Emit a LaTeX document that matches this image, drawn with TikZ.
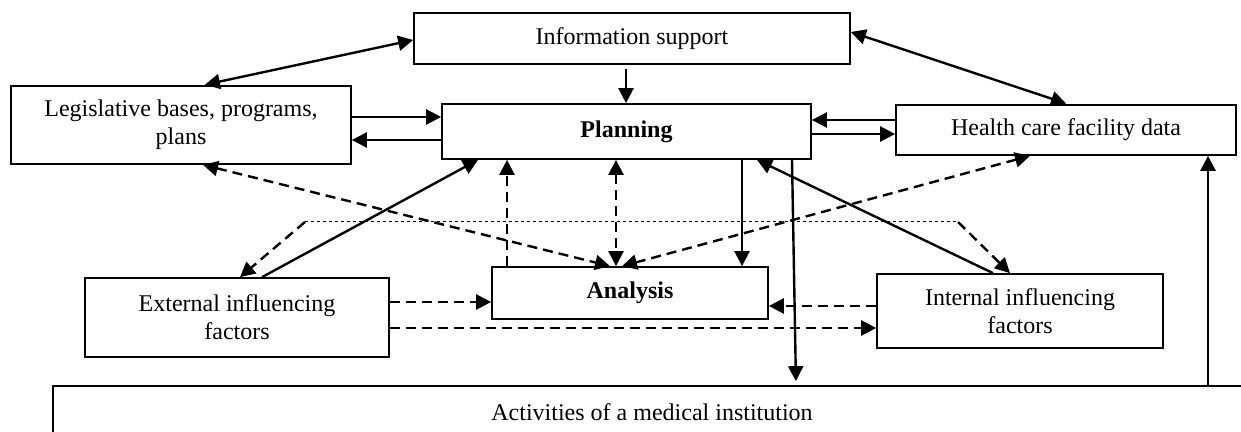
\documentclass[tikz,border=0pt]{standalone}
\usepackage{fontspec}
\setmainfont{Liberation Serif}
\usetikzlibrary{arrows.meta}
\begin{document}
\begin{tikzpicture}[x=0.5pt,y=-0.5pt,
  box/.style={draw,line width=0.85pt,rectangle,inner sep=0pt,align=center,font=\fontsize{12}{14}\selectfont},
  con/.style={line width=1.2pt,-{Triangle[length=7.5pt,width=7.5pt]}},
  bicon/.style={line width=1.2pt,{Triangle[length=7.5pt,width=7.5pt]}-{Triangle[length=7.5pt,width=7.5pt]}},
  dsh/.style={dash pattern=on 5pt off 3pt},
  thin dots/.style={line width=0.5pt,dash pattern=on 1.5pt off 1.5pt}]
\clip (0,0) rectangle (1241,432);
\node[box,minimum width=218pt,minimum height=25.5pt] (info) at (632,38.5) {Information support};
\node[box,minimum width=170pt,minimum height=39pt] (leg) at (181,125) {Legislative bases, programs,\\plans};
\node[box,minimum width=184.5pt,minimum height=27.5pt] (plan) at (626.5,131.5) {\textbf{Planning}};
\node[box,minimum width=170pt,minimum height=25pt] (hc) at (1066,130) {Health care facility data};
\node[box,minimum width=152pt,minimum height=39.5pt] (ext) at (237,317.5) {External influencing\\factors};
\node[box,minimum width=138pt,minimum height=26pt] (ana) at (630,293) {\textbf{Analysis}};
\node[box,minimum width=143pt,minimum height=37pt] (int) at (1020,311) {Internal influencing\\factors};
\node[box,minimum width=599pt,minimum height=26pt] (act) at (652,412) {Activities of a medical institution};
\coordinate (p1) at (305,222);
\coordinate (p2) at (958,222);
% solid connectors
\draw[bicon,shorten >=1pt] (info.west |- 0,40) -- (leg.north -| 203,0);
\draw[bicon,shorten >=1pt] (info.east |- 0,32) -- (hc.north -| 1068,0);
\draw[con,shorten <=2pt] (info.south -| 626,0) -- (plan.north -| 626,0);
\draw[con] (leg.east |- 0,117) -- (plan.west |- 0,117);
\draw[con] (plan.west |- 0,140) -- (leg.east |- 0,140);
\draw[con] (hc.west |- 0,120) -- (plan.east |- 0,120);
\draw[con] (plan.east |- 0,134) -- (hc.west |- 0,134);
\draw[con] (ext.north -| 262,0) -- (plan.south -| 478,0);
\draw[con] (plan.south -| 742,0) -- (ana.north -| 742,0);
\draw[con,shorten >=2pt] (plan.south -| 792,0) -- (act.north -| 796,0);
\draw[con] (int.north -| 993,0) -- (plan.south -| 757,0);
\draw[con] (act.north -| 1208,0) -- (hc.south -| 1208,0);
% dashed connectors
\draw[con,dsh] (ana.north -| 507,0) -- (plan.south -| 507,0);
\draw[bicon,dsh] (plan.south -| 616,0) -- (ana.north -| 616,0);
\draw[bicon,dsh] (leg.south -| 203,0) -- (ana.north -| 610,0);
\draw[bicon,dsh] (hc.south -| 1030,0) -- (ana.north -| 622,0);
\draw[thin dots] (p1) -- (p2);
\draw[con,dsh] (p1) -- (ext.north -| 240,0);
\draw[con,dsh] (p2) -- (int.north -| 1010,0);
\draw[con,dsh] (ext.east |- 0,302) -- (ana.west |- 0,302);
\draw[con,dsh] (ext.east |- 0,328) -- (int.west |- 0,328);
\draw[con,dsh] (int.west |- 0,306) -- (ana.east |- 0,306);
\end{tikzpicture}
\end{document}
